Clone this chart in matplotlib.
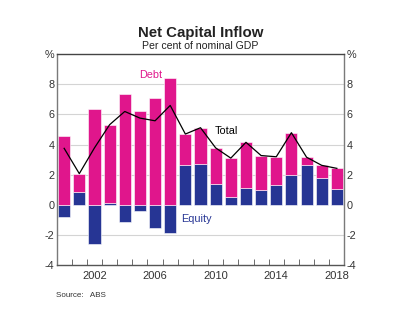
import matplotlib
matplotlib.use("Agg")
import matplotlib.pyplot as plt
import numpy as np

years = np.arange(2000, 2019)
equity = [-0.80, 0.86, -2.59, 0.15, -1.14, -0.44, -1.54, -1.85, 2.66, 2.68,
          1.35, 0.55, 1.10, 1.00, 1.30, 1.96, 2.66, 1.80, 1.08]
debt = [4.55, 1.21, 6.37, 5.17, 7.34, 6.20, 7.12, 8.45, 2.04, 2.44,
        2.43, 2.55, 3.05, 2.27, 1.89, 2.83, 0.50, 0.82, 1.34]
total = [3.75, 2.07, 3.78, 5.32, 6.20, 5.76, 5.58, 6.60, 4.70, 5.12,
         3.78, 3.10, 4.15, 3.27, 3.19, 4.79, 3.16, 2.62, 2.42]
yticks = [-4, -2, 0, 2, 4, 6, 8, 10]
ytick_labels = ["-4", "-2", "0", "2", "4", "6", "8", "%"]
xlabel_years = [2002, 2006, 2010, 2014, 2018]

DEBT_C = "#E0168C"
EQ_C = "#263594"

plt.rcParams["font.family"] = ["Liberation Sans", "DejaVu Sans"]

fig = plt.figure(figsize=(4.13, 3.35), dpi=100)
ax = fig.add_axes([0.137, 0.209, 0.697, 0.629])

eq = np.array(equity)
bottom = np.where(eq > 0, eq, 0)
ax.bar(years, equity, width=0.8, color=EQ_C, edgecolor="white", linewidth=0.4, zorder=2)
ax.bar(years, debt, bottom=bottom, width=0.8, color=DEBT_C, edgecolor="white", linewidth=0.4, zorder=2)
ax.plot(years, total, color="black", linewidth=0.9, zorder=3)

ax.set_xlim(1999.5, 2018.5)
ax.set_ylim(-4, 10)
for y in [-2, 2, 4, 6, 8]:
    ax.axhline(y, color="#d4d4d4", linewidth=0.8, zorder=1)

ax.set_yticks(yticks)
ax.set_yticklabels(ytick_labels)
ax.tick_params(axis="y", which="both", length=0, labelsize=7.8,
               left=True, right=True, labelleft=True, labelright=True,
               pad=1.5, labelcolor="#333333")
ax.set_xticks(np.arange(2000.5, 2018, 1), minor=True)
ax.set_xticks(xlabel_years)
ax.set_xticklabels([str(y) for y in xlabel_years])
ax.tick_params(axis="x", which="major", length=0, labelsize=8, pad=4, labelcolor="#333333")
ax.tick_params(axis="x", which="minor", length=4, direction="in", color="#555555")

for s in ax.spines.values():
    s.set_color("#7a7a7a")
    s.set_linewidth(1.0)
ax.spines["top"].set_color("#444444")
ax.spines["bottom"].set_color("#555555")

ax.text(2005.7, 8.6, "Debt", color=DEBT_C, fontsize=7.8, ha="center", va="center")
ax.text(2008.7, -0.95, "Equity", color=EQ_C, fontsize=7.8, ha="center", va="center")
ax.text(2010.7, 4.87, "Total", color="black", fontsize=7.8, ha="center", va="center")

fig.text(0.485, 0.9, "Net Capital Inflow", fontsize=10.8, fontweight="bold",
         ha="center", va="center", color="#222222")
fig.text(0.485, 0.862, "Per cent of nominal GDP", fontsize=7.6,
         ha="center", va="center", color="#222222")
fig.text(0.135, 0.117, "Source:   ABS", fontsize=5.8, ha="left", va="center", color="#333333")

fig.savefig("out.png", dpi=100)
